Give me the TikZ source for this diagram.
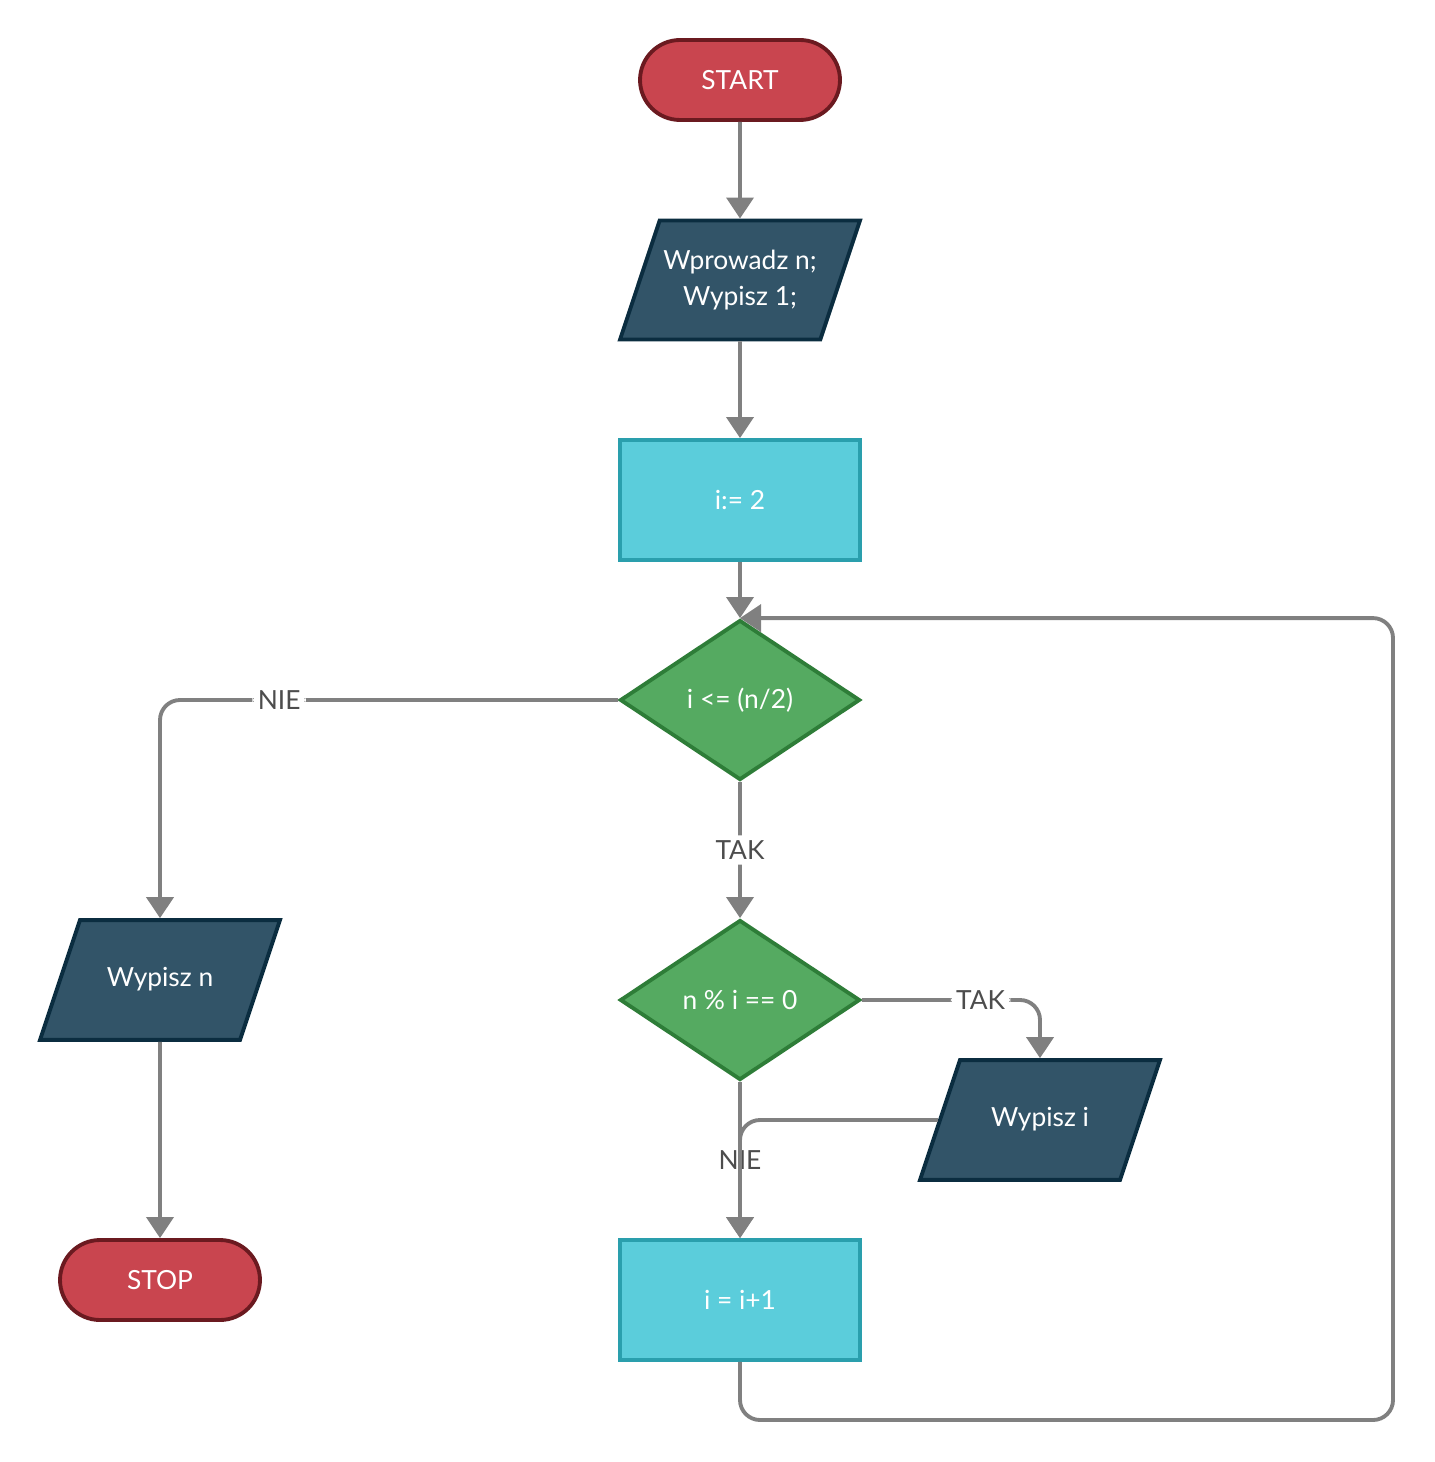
\documentclass[tikz,border=0pt]{standalone}
\usepackage{fontspec}
\setmainfont{Lato}
\usetikzlibrary{shapes.geometric,arrows.meta}

\definecolor{termfill}{HTML}{C9454F}
\definecolor{termline}{HTML}{6B1A20}
\definecolor{iofill}{HTML}{325468}
\definecolor{ioline}{HTML}{0B2D40}
\definecolor{procfill}{HTML}{5BCDDB}
\definecolor{procline}{HTML}{2A9FAD}
\definecolor{condfill}{HTML}{55AA61}
\definecolor{condline}{HTML}{2E7D38}
\definecolor{linegray}{HTML}{808080}
\definecolor{labgray}{HTML}{4D4D4D}

\tikzset{
  base/.style={draw, line width=2.2pt, text=white, font=\fontsize{15}{20}\selectfont, align=center, inner sep=0pt},
  term/.style={base, rectangle, fill=termfill, draw=termline, rounded corners=0.8cm, minimum width=4cm, minimum height=1.6cm},
  io/.style={base, trapezium, trapezium left angle=71.57, trapezium right angle=108.43, trapezium stretches body=true, fill=iofill, draw=ioline, minimum width=4.8cm, text height=11.25pt, text depth=3.75pt, inner ysep=0.935cm},
  iotwo/.style={io, text height=, text depth=, inner ysep=0.6cm},
  proc/.style={base, rectangle, fill=procfill, draw=procline, minimum width=4.8cm, minimum height=2.4cm},
  cond/.style={base, diamond, aspect=1.5, fill=condfill, draw=condline, minimum width=4.8cm, minimum height=3.2cm},
  flow/.style={draw=linegray, line width=2.2pt, -{Triangle[width=0.54cm,length=0.42cm]}, rounded corners=0.4cm},
  lab/.style={fill=white, text=labgray, font=\fontsize{15}{20}\selectfont, inner sep=3pt}
}

\begin{document}
\begin{tikzpicture}[x=0.02cm,y=-0.02cm]
\useasboundingbox (0,0) rectangle (1434,1462);

\node[term] (start) at (740,80) {START};
\node[iotwo] (input) at (740,280) {Wprowadz n;\\Wypisz 1;};
\node[proc] (init) at (740,500) {i:= 2};
\node[cond] (loopcond) at (740,700) {i <= (n/2)};
\node[cond] (divcond) at (740,1000) {n \% i == 0};
\node[io] (outi) at (1040,1120) {Wypisz i};
\node[proc] (incr) at (740,1300) {i = i+1};
\node[io] (outn) at (160,980) {Wypisz n};
\node[term] (stop) at (160,1280) {STOP};
\coordinate (loopcorner) at (1393,1420);

\draw[flow] (start) -- (input);
\draw[flow] (input) -- (init);
\draw[flow] (init) -- (loopcond);
\draw[flow] (loopcond.west) -| node[lab, pos=0.37] {NIE} (outn.north);
\draw[flow] (loopcond) -- node[lab] {TAK} (divcond);
\draw[flow] (divcond.east) -| node[lab, pos=0.333] {TAK} (outi.north);
\draw[flow] (divcond) -- node[lab] {NIE} (incr);
\draw[flow] (outi.west) -| (incr.north);
\draw[flow] (incr.south) |- (loopcorner) |- (loopcond.north);
\draw[flow] (outn) -- (stop);
\end{tikzpicture}
\end{document}
